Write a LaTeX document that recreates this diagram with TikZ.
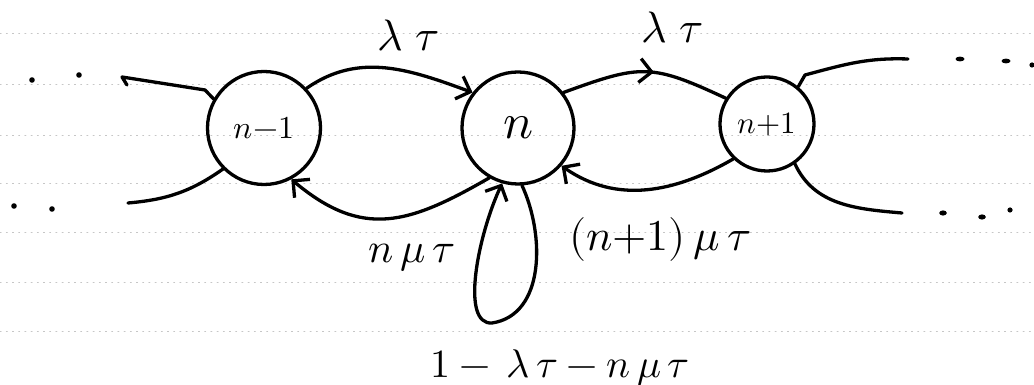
\documentclass[tikz,border=0pt]{standalone}
\usepackage{unicode-math}
\setmathfont{Latin Modern Math}
\usetikzlibrary{arrows.meta,decorations.markings}
\begin{document}
\begin{tikzpicture}[x=1pt,y=1pt, line cap=round, line join=round,
  state/.style={circle, draw, line width=3.3pt, inner sep=0pt},
  edge/.style={line width=3.3pt},
  tip/.style={-{Straight Barb[length=12pt,width=24pt]}},
  midarrow/.style={postaction={decorate,decoration={markings,
     mark=at position 0.55 with {\arrow{Straight Barb[length=12pt,width=24pt]}}}}},
  lab/.style={inner sep=0pt},
  ruled/.style={gray!45, line width=0.7pt, dash pattern=on 1.2pt off 5pt}]
\useasboundingbox (0,0) rectangle (1034,385);
\foreach \yy in {352,301,250,202,153,103,54} \draw[ruled] (0,\yy) -- (1034,\yy);

% states
\node[state, minimum size=113pt] (nm1) at (264,257) {\fontsize{32}{34}\selectfont $n{-}1$};
\node[state, minimum size=112pt] (n) at (518,257) {\fontsize{50}{52}\selectfont $n$};
\node[state, minimum size=94pt] (np1) at (767,261) {\fontsize{31}{33}\selectfont $n{+}1$};

% transitions
\draw[edge,tip] (nm1.43) to[out=35,in=160] (n.142);
\draw[edge,midarrow] (n.38) to[out=20,in=155,looseness=1.3] (np1.148);
\draw[edge,tip] (n.-120) to[out=-150,in=-40,looseness=1.2] (nm1.-62);
\draw[edge,tip] (np1.-134) to[out=-150,in=-35] (n.-41);
\draw[edge,tip] (n.-86) .. controls (545,150) and (545,70) .. (492,62)
                 .. controls (460,60) and (478,150) .. (n.-106);

% side connectors
\coordinate (lthook) at (127,300);
\coordinate (lt) at (122,308);
\coordinate (ltbend) at (205,295);
\draw[edge] (lthook) -- (lt) -- (ltbend) -- (nm1.150);
\coordinate (lb) at (128,182);
\draw[edge] (nm1.-135) to[out=-145,in=5] (lb);
\coordinate (rtk) at (805,310);
\coordinate (rt) at (908,326);
\draw[edge] (np1.50) -- (rtk) to[out=15,in=178] (rt);
\coordinate (rb) at (902,172);
\draw[edge] (np1.-55) to[out=-65,in=175] (rb);

% ellipsis dots
\fill (32,305) circle (2.8);
\fill (79,310) circle (2.8);
\fill (14,179) circle (2.8);
\fill (52,176) circle (2.8);
\fill (960,326) ellipse (4.5 and 2.4);
\fill (1006,324) ellipse (4.5 and 2.4);
\fill (1032,320) ellipse (2.6 and 2.6);
\fill (943,172) ellipse (3.8 and 2.6);
\fill (982,168) ellipse (3.8 and 2.6);
\fill (1010,175) ellipse (2.6 and 2.6);

% labels
\node[lab] (l1) at (408,349) {\fontsize{44}{44}\selectfont $\lambda\;\tau$};
\node[lab] (l2) at (672,357) {\fontsize{44}{44}\selectfont $\lambda\;\tau$};
\node[lab] (l3) at (412,127) {\fontsize{42}{42}\selectfont $n\,\mu\,\tau$};
\node[lab] (l4) at (660,145) {\fontsize{44}{44}\selectfont $(n{+}1)\,\mu\,\tau$};
\node[lab] (l5) at (560,17) {\fontsize{40}{40}\selectfont $1-\,\lambda\,\tau-n\,\mu\,\tau$};
\end{tikzpicture}
\end{document}
